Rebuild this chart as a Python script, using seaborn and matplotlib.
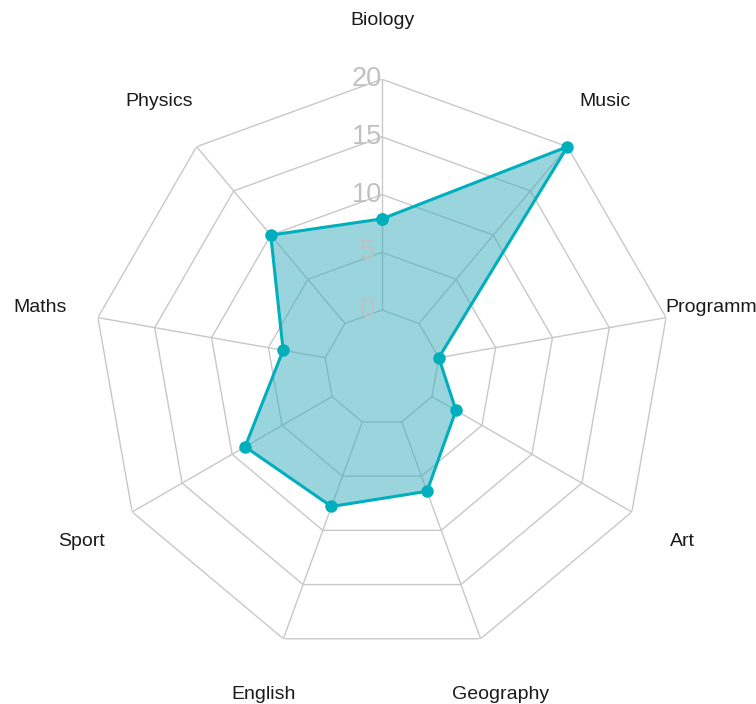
import numpy as np
import pandas as pd
import matplotlib
matplotlib.use("Agg")
import matplotlib.pyplot as plt
import seaborn as sns

# data
subjects = ["Biology", "Music", "Programming", "Art", "Geography",
            "English", "Sport", "Maths", "Physics"]
scores = [7.9, 20, 0, 2.4, 6.4, 7.8, 8.7, 3.7, 10]
ring_values = [0, 5, 10, 15, 20]

LINE = "#00AFBB"
FILL = "#37ADBD"
GRID = "#c8c8c8"

sns.set_theme(style="white")
plt.rcParams["font.family"] = ["Liberation Sans", "DejaVu Sans"]

n = len(subjects)
angles = np.linspace(0, 2 * np.pi, n, endpoint=False)
closed_angles = np.append(angles, angles[0])

df = pd.DataFrame({"theta": closed_angles, "score": scores + scores[:1]})

fig = plt.figure(figsize=(7.56, 7.04), dpi=100)
ax = fig.add_axes([0.1237, 0.0679, 0.7632, 0.8196], projection="polar")
ax.set_theta_offset(np.pi / 2)
ax.set_theta_direction(-1)
ax.set_ylim(-5, 20)
ax.grid(False)
ax.spines["polar"].set_visible(False)
ax.set_xticks([])
ax.set_yticks([])
ax.patch.set_alpha(0)

# polygon grid
for rv in ring_values:
    ax.plot(closed_angles, [rv] * (n + 1), color=GRID, lw=1.0, zorder=1)
for a in angles:
    ax.plot([a, a], [0, 20], color=GRID, lw=1.0, zorder=1)

# data
ax.fill(df["theta"], df["score"], color=FILL, alpha=0.5, lw=0, zorder=2)
sns.lineplot(data=df, x="theta", y="score", sort=False, estimator=None,
             color=LINE, lw=2.2, marker="o", markersize=9,
             markeredgewidth=0, ax=ax, zorder=3, clip_on=False)
ax.set_xlabel("")
ax.set_ylabel("")
ax.set_ylim(-5, 20)

# radial tick labels
for rv in ring_values:
    ax.annotate(str(rv), xy=(0, rv), xytext=(-15, 0), textcoords="offset pixels",
                ha="center", va="center", fontsize=19.5, color="#c0c0c0", zorder=4)

# category labels
for a, name in zip(angles, subjects):
    ax.text(a, 25.1, name, ha="center", va="center", fontsize=14,
            color="#1a1a1a", clip_on=False)

fig.savefig("out.png", dpi=100, facecolor="white")
